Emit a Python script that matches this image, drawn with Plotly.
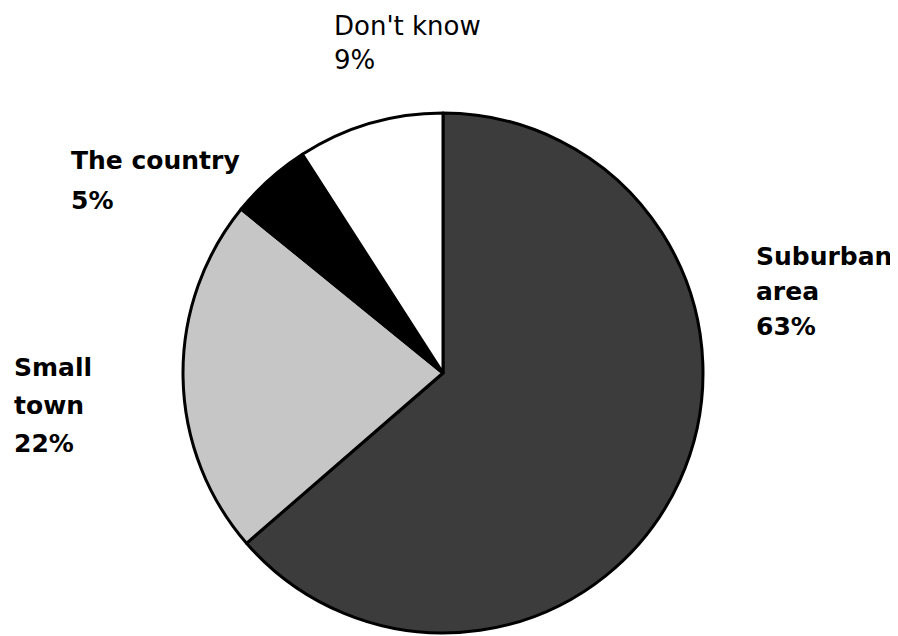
import plotly.graph_objects as go

# Data
labels = ["Suburban area", "Small town", "The country", "Don't know"]
values = [63, 22, 5, 9]
label_lines = [["Suburban", "area"], ["Small", "town"], ["The country"], ["Don't know"]]
colors = ["#3c3c3c", "#c6c6c6", "#000000", "#ffffff"]

# page is 898x636 with an 8px body margin; the figure fills the rest
OFF = 8
W, H = 898 - OFF, 636 - OFF


def px(x):
    return (x - OFF) / W


def py(y):
    return 1 - (y - OFF) / H


cx, cy, r = 443, 373, 260

fig = go.Figure(go.Pie(
    labels=labels,
    values=values,
    sort=False,
    direction="clockwise",
    rotation=0,
    textinfo="none",
    hoverinfo="label+percent",
    marker=dict(colors=colors, line=dict(color="#000000", width=3)),
    domain=dict(x=[px(cx - r), px(cx + r)], y=[py(cy + r), py(cy - r)]),
    showlegend=False,
))

# label placement (page pixels): left x, first baseline y, line spacing, bold, size
label_pos = [
    (755, 266, 35, True, 25),
    (13, 377, 38, True, 25),
    (70, 170, 40, True, 25),
    (333, 36, 34, False, 26),
]

annotations = []
for lines, v, (x0, y0, dy, bold, fs) in zip(label_lines, values, label_pos):
    all_lines = lines + [f"{v}%"]
    for i, ln in enumerate(all_lines):
        base = y0 + i * dy
        txt = f"<b>{ln}</b>" if bold else ln
        annotations.append(dict(
            x=px(x0), y=py(base + 0.24 * fs),
            xref="paper", yref="paper",
            xanchor="left", yanchor="bottom",
            text=txt, showarrow=False,
            font=dict(family="DejaVu Sans", size=fs, color="#000000"),
            borderpad=0,
        ))

fig.update_layout(
    width=W, height=H,
    margin=dict(l=0, r=0, t=0, b=0),
    paper_bgcolor="#ffffff",
    plot_bgcolor="#ffffff",
    annotations=annotations,
)

fig.write_html("out.html")
